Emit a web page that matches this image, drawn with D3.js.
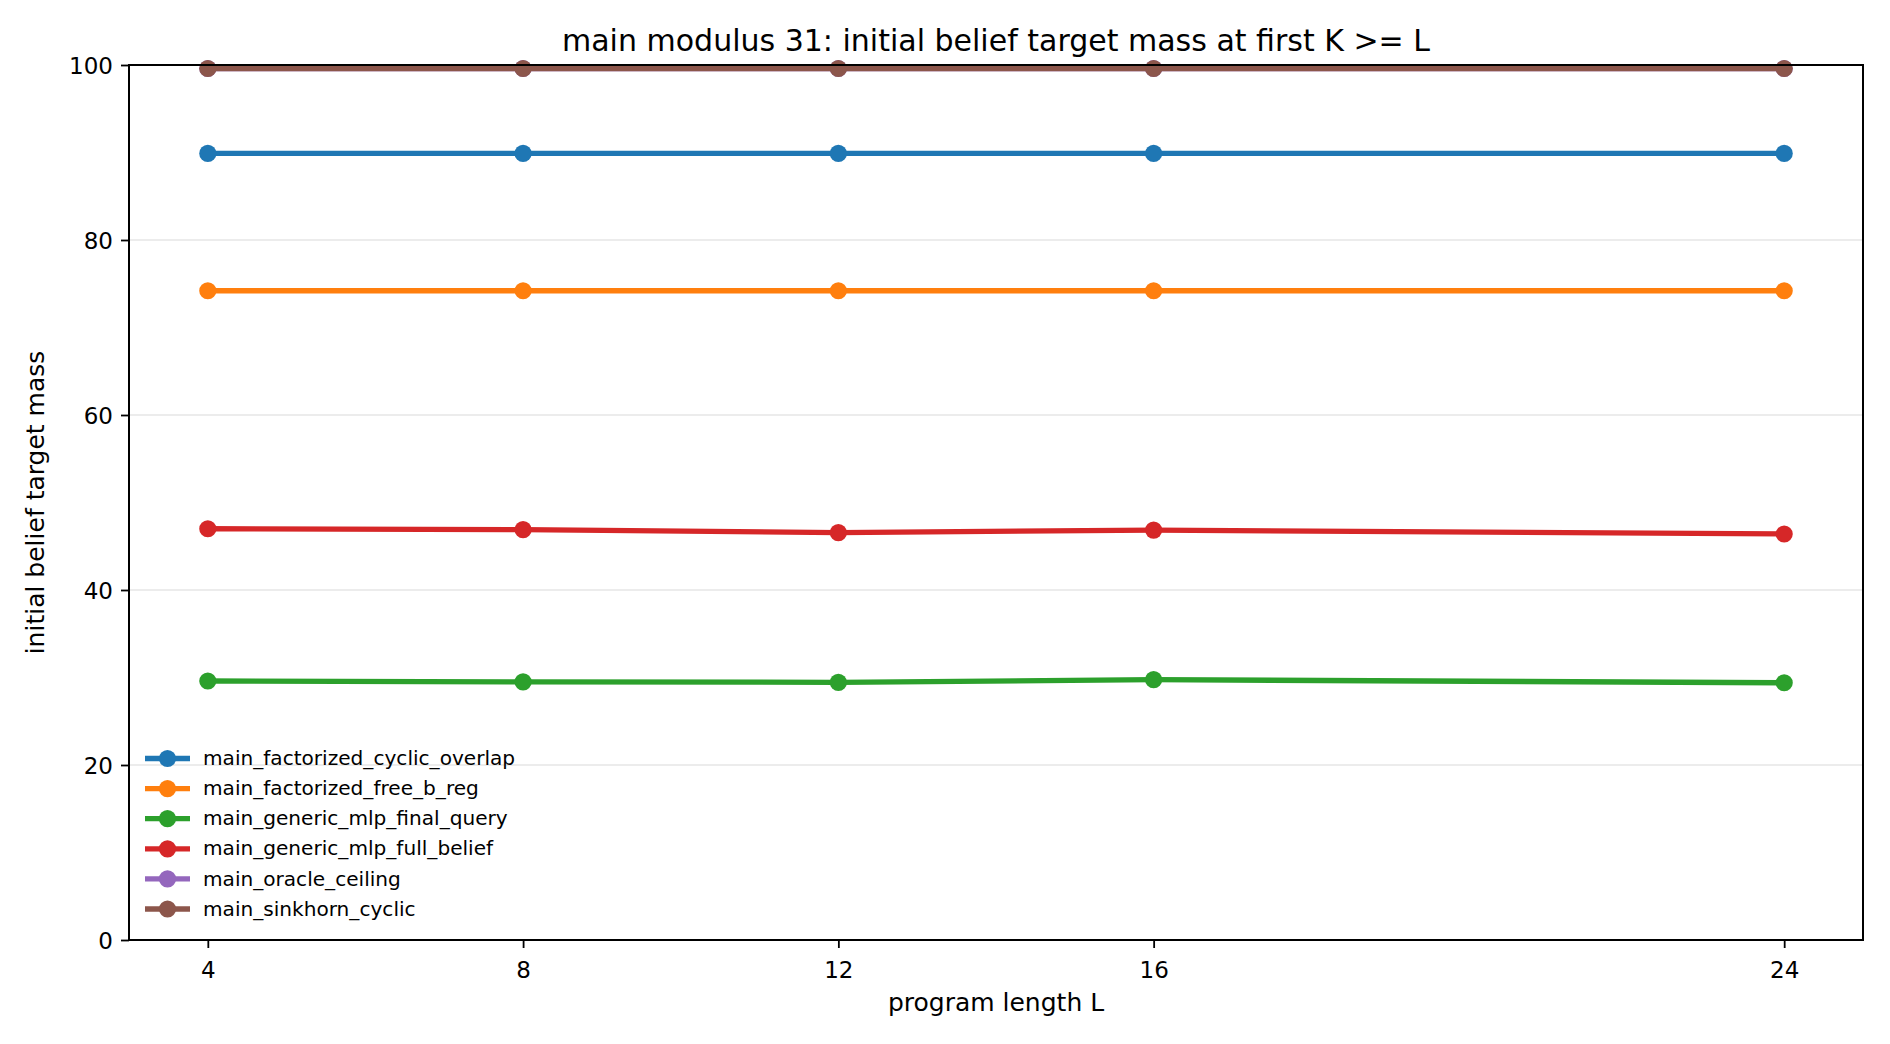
<!DOCTYPE html>
<html>
<head>
<meta charset="utf-8">
<script src="https://cdn.jsdelivr.net/npm/d3@7"></script>
<style>
  body { margin: 0; background: #fff; }
  svg { display: block; font-family: "DejaVu Sans", sans-serif; }
</style>
</head>
<body>
<div class="chart"></div>
<script>
// program lengths on the x axis
var lengths = [4, 8, 12, 16, 24];

var seriesNames = [
    "main_factorized_cyclic_overlap",
    "main_factorized_free_b_reg",
    "main_generic_mlp_final_query",
    "main_generic_mlp_full_belief",
    "main_oracle_ceiling",
    "main_sinkhorn_cyclic"
];

// values (initial belief target mass)
var cyclicOverlap = [89.9, 89.9, 89.9, 89.9, 89.9];
var freeBReg = [74.2, 74.2, 74.2, 74.2, 74.2];
var finalQuery = [29.6, 29.5, 29.45, 29.75, 29.4];
var fullBelief = [47.0, 46.9, 46.55, 46.85, 46.4];
var oracleCeiling = [99.6, 99.6, 99.6, 99.6, 99.6];
var sinkhornCyclic = [99.6, 99.6, 99.6, 99.6, 99.6];

var yTicks = [0, 20, 40, 60, 80, 100];

var colors = ["#1f77b4", "#ff7f0e", "#2ca02c", "#d62728", "#9467bd", "#8c564b"];

var allSeries = [cyclicOverlap, freeBReg, finalQuery, fullBelief, oracleCeiling, sinkhornCyclic];

var W = 1890, H = 1044;
var margin = { top: 65, right: 27, bottom: 104, left: 129 };
var width = W - margin.left - margin.right,
    height = H - margin.top - margin.bottom;

var svg = d3.select(".chart").append("svg")
    .attr("width", W)
    .attr("height", H);

var g = svg.append("g")
    .attr("transform", "translate(" + margin.left + "," + margin.top + ")");

var x = d3.scaleLinear().domain([3, 25]).range([0, width]);
var y = d3.scaleLinear().domain([0, 100]).range([height, 0]);

// grid
g.append("g").selectAll("line")
    .data(yTicks)
    .enter().append("line")
    .attr("x1", 0).attr("x2", width)
    .attr("y1", function(d) { return y(d); })
    .attr("y2", function(d) { return y(d); })
    .attr("stroke", "#e6e6e6")
    .attr("stroke-width", 1.6);

// axes
var xAxis = d3.axisBottom(x).tickValues(lengths).tickSize(8).tickPadding(8);
var yAxis = d3.axisLeft(y).tickValues(yTicks).tickSize(8).tickPadding(8);

var gx = g.append("g")
    .attr("transform", "translate(0," + height + ")")
    .call(xAxis);
var gy = g.append("g").call(yAxis);

[gx, gy].forEach(function(ax) {
    ax.select(".domain").remove();
    ax.selectAll(".tick line").attr("stroke", "#000").attr("stroke-width", 1.8);
    ax.selectAll(".tick text")
        .attr("fill", "#000")
        .style("font-size", "23px")
        .style("font-family", "DejaVu Sans");
});
gx.selectAll(".tick text").attr("dy", "0.95em");
gy.selectAll(".tick text").attr("dy", "0.36em");

// lines and markers
var line = d3.line()
    .x(function(d, i) { return x(lengths[i]); })
    .y(function(d) { return y(d); });

allSeries.forEach(function(vals, k) {
    g.append("path")
        .datum(vals)
        .attr("fill", "none")
        .attr("stroke", colors[k])
        .attr("stroke-width", 5.3)
        .attr("stroke-linejoin", "round")
        .attr("d", line);

    g.append("g").selectAll("circle")
        .data(vals)
        .enter().append("circle")
        .attr("cx", function(d, i) { return x(lengths[i]); })
        .attr("cy", function(d) { return y(d); })
        .attr("r", 8.6)
        .attr("fill", colors[k]);
});

// spines on top
g.append("rect")
    .attr("x", 0).attr("y", 0)
    .attr("width", width).attr("height", height)
    .attr("fill", "none")
    .attr("stroke", "#000")
    .attr("stroke-width", 2);

// legend (no frame)
var legend = svg.append("g");
seriesNames.forEach(function(name, k) {
    var ly = 758.5 + k * 30.1;
    legend.append("line")
        .attr("x1", 145).attr("x2", 190)
        .attr("y1", ly).attr("y2", ly)
        .attr("stroke", colors[k])
        .attr("stroke-width", 5.3);
    legend.append("circle")
        .attr("cx", 167.5).attr("cy", ly)
        .attr("r", 8.6)
        .attr("fill", colors[k]);
    legend.append("text")
        .attr("x", 203).attr("y", ly)
        .attr("dy", "0.33em")
        .style("font-size", "20.1px")
        .text(name);
});

// title and axis labels
svg.append("text")
    .attr("x", margin.left + width / 2)
    .attr("y", 51)
    .attr("text-anchor", "middle")
    .style("font-size", "30px")
    .text("main modulus 31: initial belief target mass at first K >= L");

svg.append("text")
    .attr("x", margin.left + width / 2)
    .attr("y", 1011)
    .attr("text-anchor", "middle")
    .style("font-size", "25px")
    .text("program length L");

svg.append("text")
    .attr("transform", "translate(44," + (margin.top + height / 2) + ") rotate(-90)")
    .attr("text-anchor", "middle")
    .style("font-size", "25px")
    .text("initial belief target mass");
</script>
</body>
</html>
